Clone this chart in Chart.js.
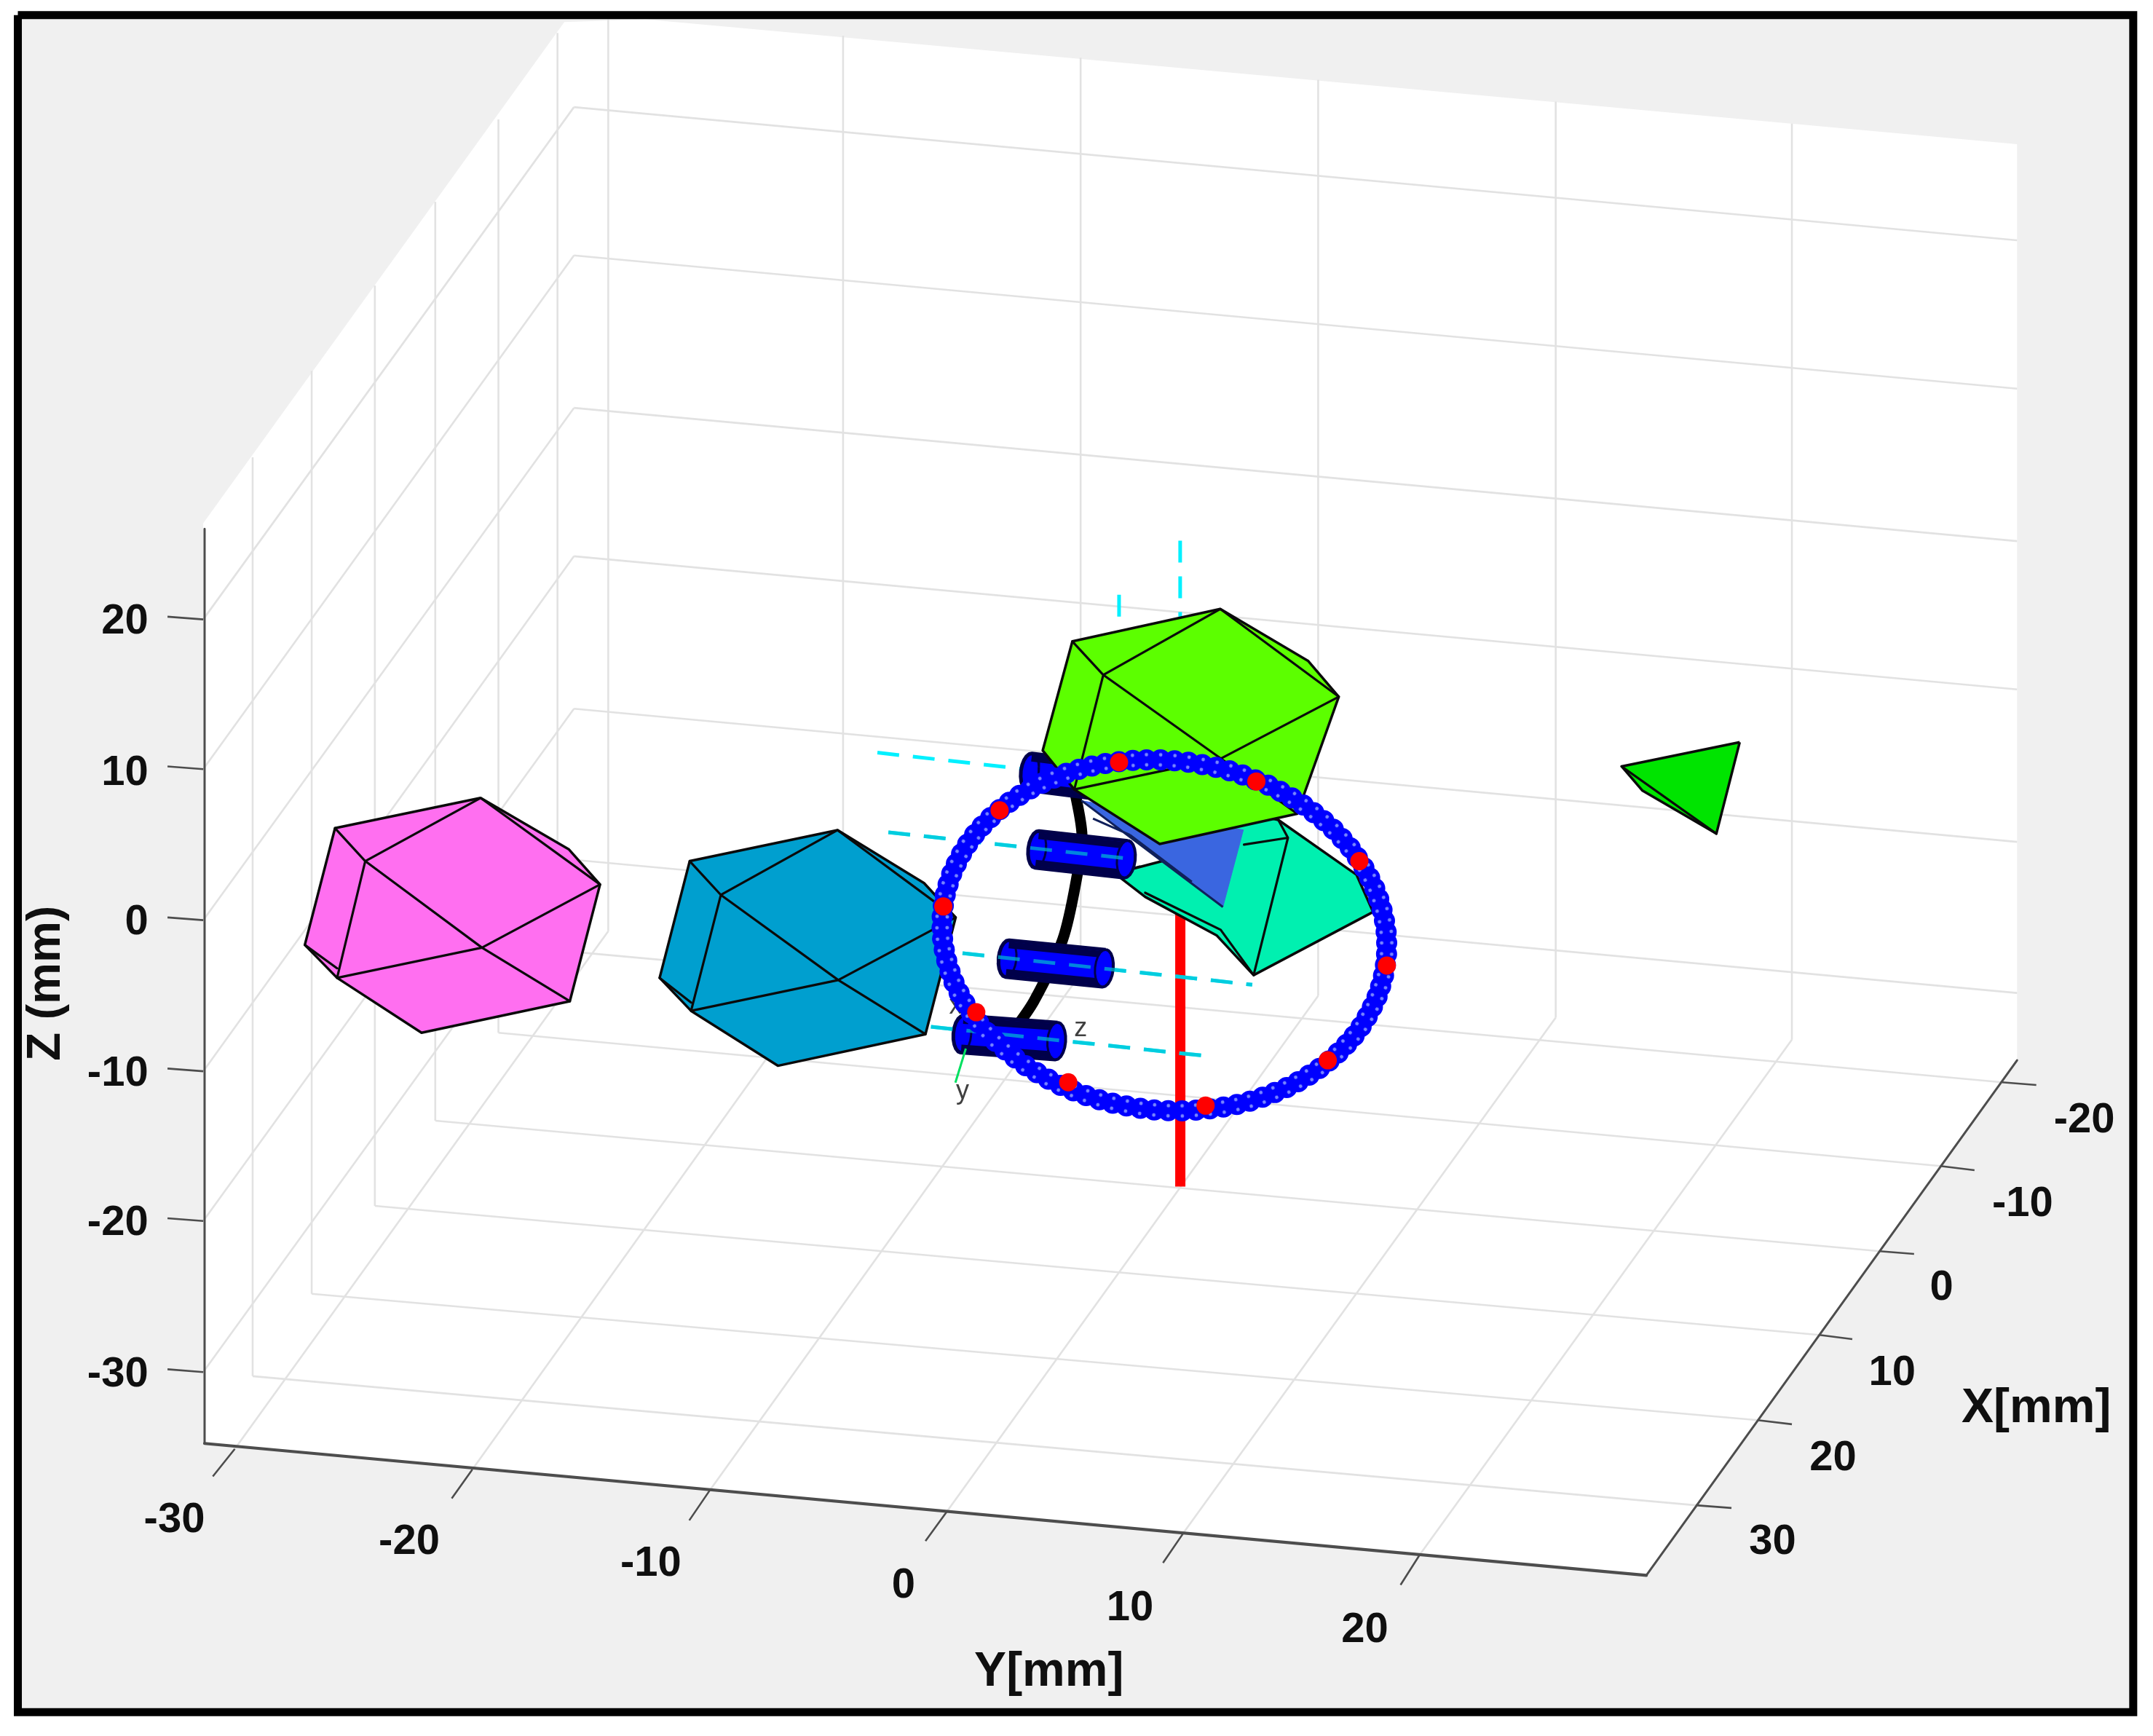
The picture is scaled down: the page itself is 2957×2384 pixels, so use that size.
<!DOCTYPE html>
<html><head><meta charset="utf-8"><title>3D scene</title>
<style>html,body{margin:0;padding:0;background:#fff}canvas{display:block}</style>
<script src="https://cdn.jsdelivr.net/npm/chart.js@4/dist/chart.umd.js"></script>
</head><body><canvas id="c" width="2957" height="2384"></canvas>
<script>
const viewW = 1568, viewH = 1264;

const xTickLabels = ['-20','-10','0','10','20','30'];
const yTickLabels = ['-30','-20','-10','0','10','20'];
const zTickLabels = ['20','10','0','-10','-20','-30'];

const framePlane = [[13,11],[1553.6,11],[1553.6,1246.6],[13,1246.6],[13,11]];
const boxOutline = [[148,381],[411,16],[470,14],[1469,105],[1469,772],[1199,1147],[149,1051],[148,381]];

const leftWallGridX = [[184,333,184,1002],[227,270,227,942],[273,208,273,878],[317,147,317,816],[363,87,363,752],[406,24,406,692]];
const backWallGridY = [[443,14,443,678],[614,26,614,693],[787,42,787,709],[960,58,960,725],[1133,74,1133,741],[1305,90,1305,757]];
const leftWallGridZ = [[148,451,418,78],[148,560,418,186],[148,670,418,297],[148,780,418,405],[148,889,418,516],[148,999,418,626]];
const backWallGridZ = [[418,78,1469,175],[418,186,1469,283],[418,297,1469,394],[418,405,1469,502],[418,516,1469,613],[418,626,1469,723]];
const floorGridX = [[406,692,1458,788],[363,752,1413,849],[317,816,1369,911],[273,878,1325,972],[227,942,1280,1034],[184,1002,1235,1096]];
const floorGridY = [[443,678,171,1055],[614,693,344,1070],[787,709,517,1085],[960,725,690,1100],[1133,741,862,1116],[1305,757,1034,1132]];

const axisLinesThin = [[149,385,149,1051],[1199,1147,1469,772]];
const axisLineFront = [[149,1051,1199,1147]];
const xTickMarks = [[1458,788,1483,790],[1413,849,1438,852],[1369,911,1394,913],[1325,972,1349,975],[1280,1034,1305,1037],[1235,1096,1261,1098]];
const yTickMarks = [[171,1055,155,1075],[344,1070,329,1091],[517,1085,502,1107],[690,1100,674,1122],[862,1116,847,1138],[1034,1132,1020,1154]];
const zTickMarks = [[148,451,122,449],[148,560,122,558],[148,670,122,668],[148,780,122,778],[148,889,122,887],[148,999,122,997]];

const xLabelSpots = [[1518,816],[1473,877],[1414,938],[1378,1000],[1335,1062],[1291,1123]];
const yLabelSpots = [[127,1107],[298,1123],[474,1139],[658,1155],[823,1171],[994,1187]];
const zLabelSpots = [[108,453],[108,563],[108,672],[108,782],[108,891],[108,1001]];

const tetraOutline = [[1267,540.4],[1181,558],[1196,575.5],[1250,607],[1267,540.4]];
const tetraEdges = [[1181,558,1250,607]];

const pinkOutline = [[350,581],[414.4,618.5],[437,644],[415,729],[307,752],[245.5,712],[222,688],[244,603],[350,581]];
const pinkEdges = [[350,581,266,627],[266,627,244,603],[266,627,351,690],[351,690,437,644],[350,581,437,644],[351,690,245.5,712],[351,690,415,729],[266,627,245.5,712],[222,688,245.5,705]];

const tealOutline = [[610,604.4],[673,643],[696,668],[674,753],[566.5,776],[503.3,736],[480.4,712],[502.3,627],[610,604.4]];
const tealEdges = [[610,604.4,525,651.6],[525,651.6,502.3,627],[525,651.6,610.5,713.6],[610.5,713.6,696,668],[610,604.4,696,668],[610.5,713.6,503.3,736],[610.5,713.6,674,753],[525,651.6,503.3,736],[480.4,712,503.3,730]];

const redPost = [[859.6,640],[859.6,864]];
const cyanLines = [[639,548,755,561],[647,606,820,625],[701,694,912,717],[678,747.6,878,768.8],[859.5,393.7,859.5,449],[815,433,815,460]];
const rodPath = [[782,572],[788,608],[784,640],[774,684],[753,729],[735,755]];

const springOutline = [[812,636],[834,653],[886,681],[913,710],[1000,664],[988,637],[931,597],[900,590],[860,600],[850,626],[812,636]];
const springEdges = [[913,710,938,610],[938,610,906,615],[938,610,931,597],[812,636,830,631],[834,650,889,677],[889,677,913,710]];

const wedgeOutline = [[787.8,583],[905.5,604.3],[890.6,660.4],[787.8,583]];
const wedgeEdges = [[787.8,583,890.6,660.4],[796,596,823,608],[823,608,868,642]];

const limeOutline = [[888.7,443.4],[952.8,481.3],[975,507.3],[944.7,592.5],[844.6,614.5],[782.4,574.8],[759.4,546.4],[781,467],[888.7,443.4]];
const limeEdges = [[888.7,443.4,803.5,491.4],[803.5,491.4,781,467],[803.5,491.4,889.2,552.3],[889.2,552.3,975,507.3],[888.7,443.4,975,507.3],[889.2,552.3,782.4,574.8],[889.2,552.3,944.7,592.5],[803.5,491.4,782.4,574.8]];

// [end 1 x, end 1 y, end 2 x, end 2 y]
const cylinderBack = [[750,562,822,571]];
const cylindersFront = [[755.3,618.5,820,625.6],[733.7,698,804,705],[700.8,753,769.3,758]];

const ringBeads = [[687,659.5],[688.4,651.6],[690.5,643.9],[693.1,636.3],[696.5,628.9],[700.3,621.7],[704.7,614.6],[709.8,607.8],[715.3,601.5],[721.5,595.3],
[728.1,589.5],[735.1,584.1],[742.6,579.1],[750.6,574.4],[758.9,570.2],[767.6,566.5],[776.5,563.1],[785.7,560.2],[795.2,557.8],[805,555.9],
[814.9,554.6],[825,553.7],[835,553.2],[845.2,553.3],[855.4,553.9],[865.5,555],[875.6,556.7],[885.6,558.7],[895.4,561.2],[905,564.3],
[914.3,567.8],[923.6,571.7],[932.4,576.2],[940.9,581],[949.1,586.1],[956.8,591.7],[964.1,597.6],[971,603.8],[977.4,610.5],[983.3,617.3],
[988.5,624.3],[993.3,631.7],[997.5,639.1],[1001.2,646.8],[1004.1,654.6],[1006.5,662.5],[1008.3,670.5],[1009.5,678.5],[1009.9,686.5],[1009.8,694.6],
[1009,702.5],[1007.6,710.4],[1005.5,718.1],[1002.9,725.7],[999.5,733.1],[995.7,740.3],[991.3,747.4],[986.2,754.2],[980.7,760.5],[974.5,766.7],
[967.9,772.5],[960.9,777.9],[953.4,782.9],[945.4,787.6],[937.1,791.8],[928.4,795.5],[919.5,798.9],[910.3,801.8],[900.8,804.2],[891,806.1],
[881.1,807.4],[871,808.3],[861,808.8],[850.8,808.7],[840.6,808.1],[830.5,807],[820.4,805.3],[810.4,803.3],[800.6,800.8],[791,797.7],
[781.7,794.2],[772.4,790.3],[763.6,785.8],[755.1,781],[746.9,775.9],[739.2,770.3],[731.9,764.4],[725,758.2],[718.6,751.5],[712.7,744.7],
[707.5,737.7],[702.7,730.3],[698.5,722.9],[694.8,715.2],[691.9,707.4],[689.5,699.5],[687.7,691.5],[686.5,683.5],[686.1,675.5],[686.2,667.4]];
const ringMarkers = [[687,660],[728,590],[815,555],[915,569],[990,627],[1010,703],[967,772],[878,805],[778,788],[711,737]];

const frameTriadLine = [[703.4,763.5],[695.8,788.3]];

const COLORS = {bg:'#f0f0f0',grid:'#e2e2e2',axis:'#4d4d4d',edge:'#0a0a0a',pink:'#ff6ff0',teal:'#009fcf',lime:'#5cff00',
  spring:'#00f0b0',wedge:'#3a66e0',tetra:'#00e400',cyan:'#00f0ff',blue:'#0000ff',navy:'#00004a',red:'#ff0000'};

const P = a => a.map(([x,y]) => ({x,y}));
const layers = [];
function poly(pts, fill, line, w){
  layers.push({data:P(pts), showLine:true, fill:'shape', backgroundColor:fill, borderColor:line||fill, borderWidth:w===undefined?3:w, pointRadius:0, borderJoinStyle:'round', tension:0});
}
function segs(list, color, w, extra){
  const d=[];
  list.forEach(s=>{d.push({x:s[0],y:s[1]},{x:s[2],y:s[3]},{x:NaN,y:NaN});});
  layers.push(Object.assign({data:d, showLine:true, fill:false, borderColor:color, borderWidth:w, pointRadius:0, tension:0},extra||{}));
}
function solid(outline, edges, fill){ poly(outline, fill, COLORS.edge, 3.5); segs(edges, COLORS.edge, 3.2, {borderCapStyle:'round'}); }

function cylinder(c){
  const [x1,y1,x2,y2]=c, L=Math.hypot(x2-x1,y2-y1), ux=(x2-x1)/L, uy=(y2-y1)/L, vx=-uy, vy=ux, a=6.5, b=13.5;
  const arc=(cx,cy,from,to,n)=>{const r=[];for(let i=0;i<=n;i++){const t=(from+(to-from)*i/n)*Math.PI/180;r.push([cx+a*Math.cos(t)*ux+b*Math.sin(t)*vx,cy+a*Math.cos(t)*uy+b*Math.sin(t)*vy]);}return r;};
  const body=[...arc(x2,y2,-90,90,10),...arc(x1,y1,90,270,10)]; body.push(body[0]);
  poly(body,COLORS.blue,COLORS.navy,5);
  segs([[x1+vx*-10,y1+vy*-10,x2+vx*-10,y2+vy*-10],[x1+vx*10,y1+vy*10,x2+vx*10,y2+vy*10]],COLORS.navy,9);
  const rc=arc(x2,y2,0,360,20); poly(rc,COLORS.blue,COLORS.navy,3);
  const lc=arc(x1,y1,-90,90,10); segs(lc.slice(1).map((p,i)=>[lc[i][0],lc[i][1],p[0],p[1]]),COLORS.navy,3);
}

// back-to-front
poly(framePlane,COLORS.bg,COLORS.bg,0);
poly(boxOutline,'#ffffff','#ffffff',0);
[leftWallGridX,backWallGridY,leftWallGridZ,backWallGridZ,floorGridX,floorGridY].forEach(g=>segs(g,COLORS.grid,2.6));
segs(axisLinesThin,COLORS.axis,3,{borderCapStyle:'round'});
segs(axisLineFront,COLORS.axis,4.2,{borderCapStyle:'round'});
[xTickMarks,yTickMarks,zTickMarks].forEach(g=>segs(g,COLORS.axis,2.6));
solid(tetraOutline,tetraEdges,COLORS.tetra);
solid(pinkOutline,pinkEdges,COLORS.pink);
solid(tealOutline,tealEdges,COLORS.teal);
layers.push({data:P(redPost),showLine:true,borderColor:COLORS.red,borderWidth:14,pointRadius:0,fill:false});
segs(cyanLines,COLORS.cyan,5,{borderDash:[30,19]});
layers.push({data:P(rodPath),showLine:true,borderColor:'#000',borderWidth:15,pointRadius:0,fill:false,tension:0.3,borderCapStyle:'round'});
cylinderBack.forEach(cylinder);
solid(springOutline,springEdges,COLORS.spring);
poly(wedgeOutline,COLORS.wedge,COLORS.wedge,1);
segs(wedgeEdges,'#10205a',3);
solid(limeOutline,limeEdges,COLORS.lime);
cylindersFront.forEach(cylinder);
segs(cyanLines.slice(1,4),'rgba(0,190,210,0.7)',5,{borderDash:[30,19]});
layers.push({label:'triad',data:P(frameTriadLine),showLine:true,borderColor:'#00e060',borderWidth:3,pointRadius:0,fill:false});

// ring: solid beads, then the two rows of pale gaps between them
const gap=document.createElement('canvas'); gap.width=gap.height=26;
{const g=gap.getContext('2d'); g.fillStyle='rgba(170,190,255,0.7)';
 [6,20].forEach(y=>{g.beginPath();g.arc(13,y,2.4,0,7);g.fill();});}
layers.push({data:P(ringBeads),showLine:false,pointRadius:14.5,pointBackgroundColor:COLORS.blue,pointBorderWidth:0,pointStyle:'circle'});
layers.push({data:P(ringBeads),showLine:false,pointRadius:1,pointStyle:gap,pointBorderWidth:0,
  pointRotation:ctx=>{const n=ringBeads.length,i=ctx.dataIndex,a=ringBeads[(i+n-1)%n],b=ringBeads[(i+1)%n];return Math.atan2(b[1]-a[1],b[0]-a[0])*180/Math.PI;}});
layers.push({data:P(ringMarkers),showLine:false,pointRadius:12.5,pointBackgroundColor:COLORS.red,pointBorderWidth:0,pointStyle:'circle'});
// frame border on top
layers.push({data:P(framePlane),showLine:true,borderColor:'#000',borderWidth:11,pointRadius:0,fill:false,borderJoinStyle:'miter'});

const tickFont='bold 58px "Liberation Sans", Arial, sans-serif';
const titleFont='bold 66px "Liberation Sans", Arial, sans-serif';
const smallFont='36px "Liberation Sans", Arial, sans-serif';
function put(chart,s,p,font,align,color){
  const c=chart.ctx;c.font=font;c.textAlign=align||'center';c.textBaseline='middle';c.fillStyle=color||'#0f0f0f';
  c.fillText(s,chart.scales.x.getPixelForValue(p[0]),chart.scales.y.getPixelForValue(p[1]));
}
const textPlugin={id:'sceneText',
 afterDatasetDraw(chart,args){
  if(chart.data.datasets[args.index].label!=='triad')return;
  const c=chart.ctx;c.save();
  put(chart,'x',[696,733],smallFont,'center','#404040');
  put(chart,'z',[787,749],smallFont,'center','#404040');
  put(chart,'y',[701,795],smallFont,'center','#404040');
  c.restore();
 },
 afterDraw(chart){
  const c=chart.ctx,sx=chart.scales.x,sy=chart.scales.y;
  c.save();
  xTickLabels.forEach((s,i)=>put(chart,s,xLabelSpots[i],tickFont));
  yTickLabels.forEach((s,i)=>put(chart,s,yLabelSpots[i],tickFont));
  zTickLabels.forEach((s,i)=>put(chart,s,zLabelSpots[i],tickFont,'right'));
  put(chart,'X[mm]',[1483,1026],titleFont);
  put(chart,'Y[mm]',[764,1218],titleFont);
  c.translate(sx.getPixelForValue(34),sy.getPixelForValue(716));c.rotate(-Math.PI/2);
  c.font='bold 64px "Liberation Sans", Arial, sans-serif';c.textAlign='center';c.textBaseline='middle';c.fillStyle='#0f0f0f';
  c.fillText('Z (mm)',0,0);
  c.restore();
}};

new Chart(document.getElementById('c'),{
  type:'scatter',
  data:{datasets:layers.slice().reverse()},
  options:{responsive:false,devicePixelRatio:1,animation:false,events:[],
    layout:{padding:0,autoPadding:false},
    plugins:{legend:{display:false},tooltip:{enabled:false},title:{display:false}},
    scales:{x:{type:'linear',min:0,max:viewW,display:false},y:{type:'linear',min:0,max:viewH,reverse:true,display:false}}},
  plugins:[textPlugin]
});
</script></body></html>
